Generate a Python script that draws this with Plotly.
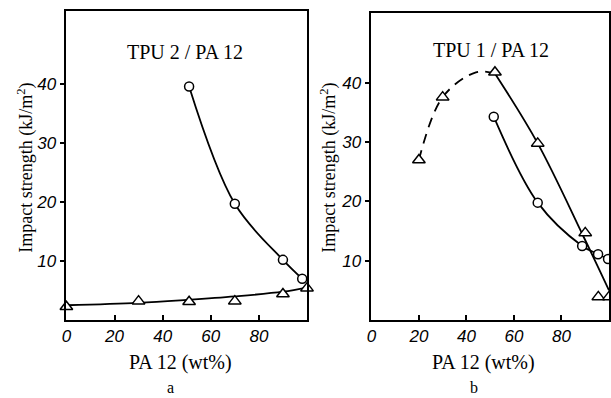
import plotly.graph_objects as go

# ---- data ----
# Panel a: TPU 2 / PA 12
a_circ_x = [51, 70, 90, 98]
a_circ_y = [39.6, 19.7, 10.2, 7.0]
a_tri_x = [0, 30, 51, 70, 90, 100]
a_tri_y = [2.25, 3.2, 3.1, 3.2, 4.4, 5.4]
a_tri_fit_x = [0, 30, 50, 70, 90, 100]
a_tri_fit_y = [2.5, 2.9, 3.4, 4.0, 4.8, 5.5]

# Panel b: TPU 1 / PA 12
b_circ_x = [51.5, 70, 88.7, 95.4, 99.6]
b_circ_y = [34.3, 19.8, 12.5, 11.1, 10.3]
b_tri_x = [20, 30, 52, 70, 90, 95.5, 100]
b_tri_y = [27, 37.6, 41.8, 29.8, 14.7, 3.9, 3.9]
b_dash_x = [20, 30, 44, 52]
b_dash_y = [27, 37.6, 41.8, 41.6]
b_solid_x = [52, 70, 89, 100]
b_solid_y = [41.6, 29.8, 14.3, 5.0]

x_ticks = [0, 20, 40, 60, 80]
y_ticks = [10, 20, 30, 40]
titles = ["TPU 2 / PA 12", "TPU 1 / PA 12"]
panel_letters = ["a", "b"]
x_title = "PA 12 (wt%)"
y_title = "Impact strength (kJ/m<sup>2</sup>)"

W, H = 611, 398
LW = 1.8
fig = go.Figure()

def line(x, y, xa, ya, dash="solid"):
    fig.add_trace(go.Scatter(x=x, y=y, xaxis=xa, yaxis=ya, mode="lines",
                             line=dict(color="black", width=LW, shape="spline", dash=dash),
                             hoverinfo="skip", showlegend=False, cliponaxis=False))

def marks(x, y, xa, ya, sym, size):
    fig.add_trace(go.Scatter(x=x, y=y, xaxis=xa, yaxis=ya, mode="markers",
                             marker=dict(symbol=sym, size=size, color="white",
                                         line=dict(color="black", width=1.5)),
                             showlegend=False, cliponaxis=False))

# panel a
line(a_circ_x, a_circ_y, "x", "y")
line(a_tri_fit_x, a_tri_fit_y, "x", "y")
marks(a_circ_x, a_circ_y, "x", "y", "circle", 9)
marks(a_tri_x, a_tri_y, "x", "y", "triangle-up", 11)
# panel b
line(b_dash_x, b_dash_y, "x2", "y2", dash="10px,7px")
line(b_solid_x, b_solid_y, "x2", "y2")
line(b_circ_x, b_circ_y, "x2", "y2")
marks(b_circ_x, b_circ_y, "x2", "y2", "circle", 9)
marks(b_tri_x, b_tri_y, "x2", "y2", "triangle-up", 11)

tickfont = dict(family="Liberation Sans", size=17, color="black")

def xaxis(dom):
    return dict(domain=dom, range=[0, 100], tickvals=x_ticks,
                ticktext=[f"<i>{v}</i>" for v in x_ticks], ticks="inside", ticklen=5,
                tickwidth=1.5, tickcolor="black", showline=True, mirror=True, linecolor="black",
                linewidth=1.5, showgrid=False, zeroline=False, tickfont=tickfont, fixedrange=True)

def yaxis(dom, top, anchor):
    return dict(domain=dom, range=[0, top], tickvals=y_ticks,
                ticktext=[f"<i>{v}</i>" for v in y_ticks], ticks="outside", ticklen=5,
                tickwidth=1.5, tickcolor="black", showline=True, mirror=True, linecolor="black",
                linewidth=1.5, showgrid=False, zeroline=False, tickfont=tickfont, anchor=anchor,
                fixedrange=True)

fig.update_layout(
    width=W, height=H, margin=dict(l=0, r=0, t=0, b=0),
    paper_bgcolor="white", plot_bgcolor="white",
    xaxis=xaxis([62 / W, 305 / W]) | dict(anchor="y"),
    yaxis=yaxis([1 - 320 / H, 1 - 11 / H], 52.4, "x"),
    xaxis2=xaxis([370 / W, 610 / W]) | dict(anchor="y2"),
    yaxis2=yaxis([1 - 320 / H, 1 - 13 / H], 51.8, "x2"),
)

serif = dict(family="Liberation Serif", size=20, color="black")

def ann(text, x, y, angle=0, font=serif):
    fig.add_annotation(text=text, x=x / W, y=1 - y / H, xref="paper", yref="paper",
                       showarrow=False, xanchor="center", yanchor="middle",
                       textangle=angle, font=font)

ann(titles[0], 182, 52)
ann(titles[1], 491, 50)
ann(x_title, 177, 362)
ann(x_title, 483, 362)
ann(y_title, 21, 168, angle=-90, font=dict(family="Liberation Serif", size=18, color="black"))
ann(y_title, 327, 168, angle=-90, font=dict(family="Liberation Serif", size=18, color="black"))
ann(panel_letters[0], 167, 387, font=dict(family="Liberation Serif", size=16, color="black"))
ann(panel_letters[1], 474, 387, font=dict(family="Liberation Serif", size=16, color="black"))

fig.write_html("out.html")
